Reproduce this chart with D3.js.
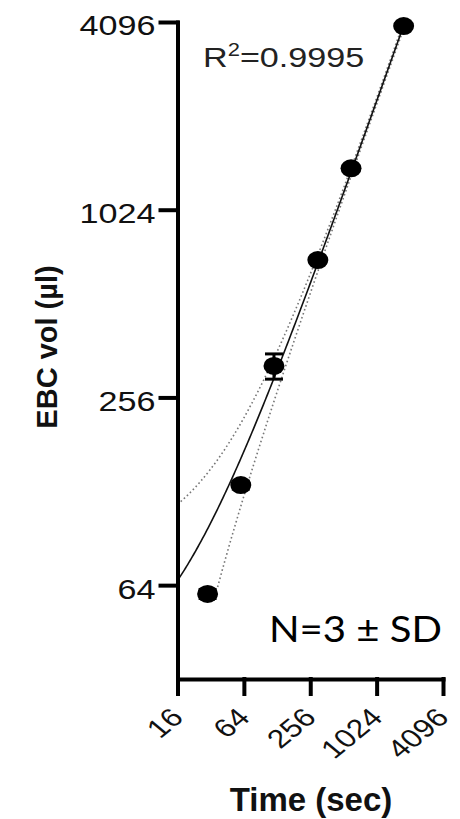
<!DOCTYPE html>
<html>
<head>
<meta charset="utf-8">
<script src="https://cdn.jsdelivr.net/npm/d3@7"></script>
<style>
  html, body { margin: 0; padding: 0; background: #fff; }
  svg { display: block; }
</style>
</head>
<body>
<script>
// chart data
var times = [30, 60, 120, 300, 600, 1800];        // sec
var volumes = [60, 134, 323, 706, 1390, 3976];    // µl, mean of N=3
var sds = [2, 4, 30, 15, 30, 60];                 // µl, SD
var xTicks = [16, 64, 256, 1024, 4096];
var yTicks = [64, 256, 1024, 4096];
var rSquaredText = '0.9995';

// page size
var width = 460,
    height = 819;

// log2 scales on both axes
var x = d3.scaleLog().base(2)
    .domain([16, 4096])
    .range([177.5, 443]);

var y = d3.scaleLog().base(2)
    .domain([32, 4096])
    .range([679, 22]);

var svg = d3.select('body')
    .append('svg')
    .attr('width', width)
    .attr('height', height)
    .style('font-family', '"Liberation Sans", Arial, sans-serif');

svg.append('rect')
    .attr('width', width)
    .attr('height', height)
    .attr('fill', '#fff');

// linear regression (volume vs time) with 95% confidence band
var n = times.length,
    mx = d3.mean(times),
    my = d3.mean(volumes),
    sxx = d3.sum(times, function(t) { return (t - mx) * (t - mx); }),
    sxy = d3.sum(times, function(t, i) { return (t - mx) * (volumes[i] - my); }),
    slope = sxy / sxx,
    intercept = my - slope * mx,
    sse = d3.sum(times, function(t, i) {
        var r = volumes[i] - (intercept + slope * t);
        return r * r;
    }),
    s = Math.sqrt(sse / (n - 2)),
    tCrit = 2.776; // t(0.975, df = 4)

function fit(t) { return intercept + slope * t; }
function ci(t) { return tCrit * s * Math.sqrt(1 / n + (t - mx) * (t - mx) / sxx); }

// sample the curves evenly on the log axis
function sampleFrom(t0, t1) {
    return d3.range(0, 201).map(function(i) {
        return t0 * Math.pow(t1 / t0, i / 200);
    });
}

svg.append('clipPath').attr('id', 'plot-clip')
    .append('rect')
    .attr('x', 178).attr('y', 10)
    .attr('width', 280).attr('height', 669);

var lines = svg.append('g').attr('clip-path', 'url(#plot-clip)');

var line = d3.line()
    .x(function(d) { return x(d[0]); })
    .y(function(d) { return y(d[1]); });

var lastT = times[times.length - 1];

// upper band
lines.append('path')
    .datum(sampleFrom(16, lastT).map(function(t) { return [t, fit(t) + ci(t)]; }))
    .attr('d', line)
    .attr('fill', 'none')
    .attr('stroke', '#777')
    .attr('stroke-width', 1.6)
    .attr('stroke-dasharray', '1.6,2.6');

// lower band (only the part right of the first point is visible in the figure)
lines.append('path')
    .datum(sampleFrom(37, lastT).map(function(t) { return [t, fit(t) - ci(t)]; }))
    .attr('d', line)
    .attr('fill', 'none')
    .attr('stroke', '#777')
    .attr('stroke-width', 1.6)
    .attr('stroke-dasharray', '1.6,2.6');

// best fit line
lines.append('path')
    .datum(sampleFrom(16, lastT).map(function(t) { return [t, fit(t)]; }))
    .attr('d', line)
    .attr('fill', 'none')
    .attr('stroke', '#111')
    .attr('stroke-width', 1.6);

// error bars
var bars = svg.append('g')
    .selectAll('g')
    .data(times)
    .enter().append('g')
    .attr('stroke', '#000')
    .attr('stroke-width', 3);

bars.append('line')
    .attr('x1', function(t) { return x(t); })
    .attr('x2', function(t) { return x(t); })
    .attr('y1', function(t, i) { return y(volumes[i] + sds[i]); })
    .attr('y2', function(t, i) { return y(volumes[i] - sds[i]); });

bars.append('line')
    .attr('x1', function(t) { return x(t) - 9; })
    .attr('x2', function(t) { return x(t) + 9; })
    .attr('y1', function(t, i) { return y(volumes[i] + sds[i]); })
    .attr('y2', function(t, i) { return y(volumes[i] + sds[i]); });

bars.append('line')
    .attr('x1', function(t) { return x(t) - 9; })
    .attr('x2', function(t) { return x(t) + 9; })
    .attr('y1', function(t, i) { return y(volumes[i] - sds[i]); })
    .attr('y2', function(t, i) { return y(volumes[i] - sds[i]); });

// markers (slightly wide, like the stretched original)
svg.append('g')
    .selectAll('ellipse')
    .data(times)
    .enter().append('ellipse')
    .attr('cx', function(t) { return x(t); })
    .attr('cy', function(t, i) { return y(volumes[i]); })
    .attr('rx', 10.5)
    .attr('ry', 9)
    .attr('fill', '#000');

// y axis
var yAxis = svg.append('g')
    .attr('transform', 'translate(' + x.range()[0] + ',0)')
    .call(d3.axisLeft(y)
        .tickValues(yTicks)
        .tickFormat(d3.format('d'))
        .tickSize(17)
        .tickSizeOuter(0));

yAxis.selectAll('text')
    .attr('x', 0)
    .attr('dy', '0.46em')
    .attr('transform', 'translate(-22,0) scale(1.22,1)')
    .style('font-size', '28px')
    .attr('fill', '#111');

// x axis
var xAxis = svg.append('g')
    .attr('transform', 'translate(0,' + y.range()[0] + ')')
    .call(d3.axisBottom(x)
        .tickValues(xTicks)
        .tickFormat(d3.format('d'))
        .tickSize(15)
        .tickSizeOuter(0));

xAxis.selectAll('text')
    .attr('x', 0)
    .attr('y', 0)
    .attr('dy', 0)
    .style('text-anchor', 'end')
    .style('font-size', '26px')
    .attr('fill', '#111')
    .attr('transform', 'translate(7,40) scale(1.22,1) rotate(-45)');

svg.selectAll('.domain, .tick line')
    .attr('stroke', '#000')
    .attr('stroke-width', 4)
    .attr('stroke-linecap', 'square');

// axis titles
svg.append('text')
    .attr('transform', 'translate(57,347) rotate(-90)')
    .attr('text-anchor', 'middle')
    .style('font-size', '29px')
    .style('font-weight', 'bold')
    .attr('fill', '#111')
    .text('EBC vol (\u00b5l)');

svg.append('text')
    .attr('x', 311)
    .attr('y', 811)
    .attr('text-anchor', 'middle')
    .style('font-size', '33px')
    .style('font-weight', 'bold')
    .attr('fill', '#111')
    .text('Time (sec)');

// R squared
var r2 = svg.append('text')
    .attr('transform', 'translate(203,67) scale(1.22,1)')
    .style('font-size', '28px')
    .attr('fill', '#222');
r2.append('tspan').text('R');
r2.append('tspan').attr('dy', -11).style('font-size', '18px').text('2');
r2.append('tspan').attr('dy', 11).text('=' + rSquaredText);

// N note
svg.append('text')
    .attr('x', 269)
    .attr('y', 642)
    .attr('textLength', 173)
    .attr('lengthAdjust', 'spacingAndGlyphs')
    .style('font-family', 'Lato, "Open Sans", sans-serif')
    .style('font-size', '37px')
    .attr('fill', '#000')
    .text('N=3 \u00b1 SD');
</script>
</body>
</html>
